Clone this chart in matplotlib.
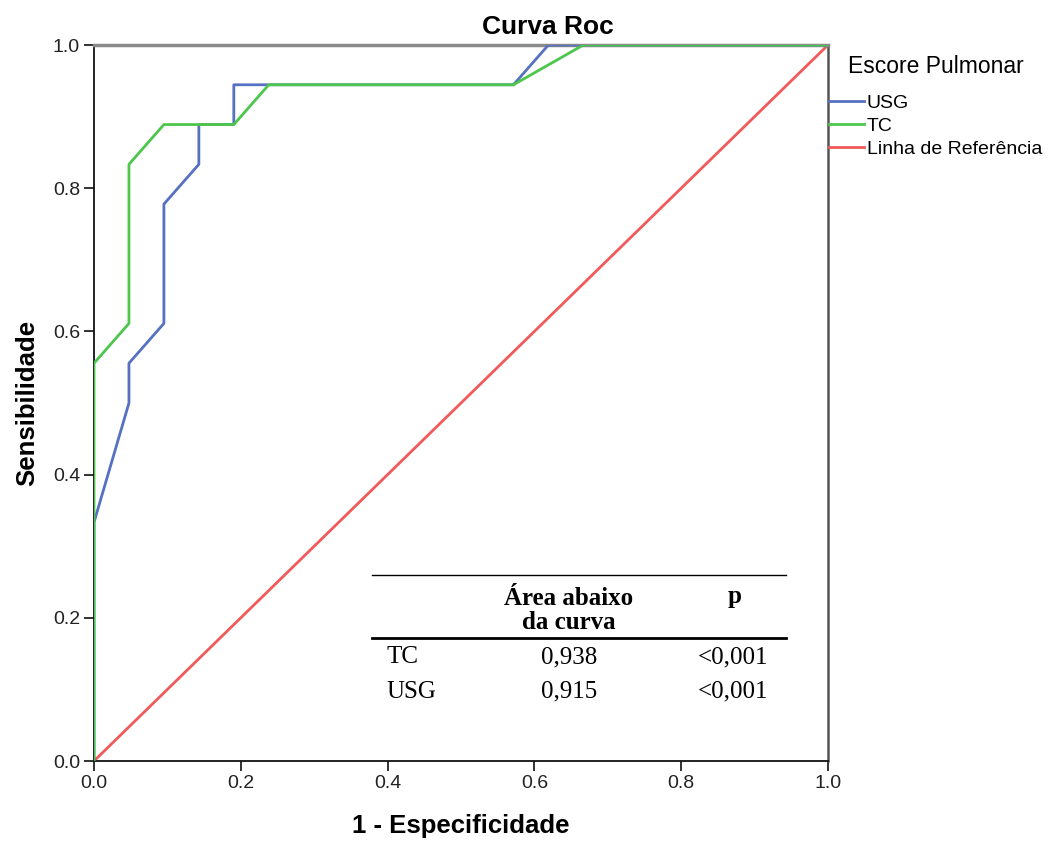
import matplotlib
matplotlib.use("Agg")
import matplotlib.pyplot as plt

# ROC points (1 - especificidade, sensibilidade)
usg_fpr = [0, 0, 1/21, 1/21, 2/21, 2/21, 3/21, 3/21, 4/21, 4/21, 12/21, 13/21, 1]
usg_tpr = [0, 6/18, 9/18, 10/18, 11/18, 14/18, 15/18, 16/18, 16/18, 17/18, 17/18, 1, 1]

tc_fpr = [0, 0, 1/21, 1/21, 2/21, 4/21, 5/21, 12/21, 14/21, 1]
tc_tpr = [0, 10/18, 11/18, 15/18, 16/18, 16/18, 17/18, 17/18, 1, 1]

ref_line = [0, 1]

# table values
table_rows = ["TC", "USG"]
table_auc = ["0,938", "0,915"]
table_p = ["<0,001", "<0,001"]

BLUE = "#5670c2"
GREEN = "#4cc64c"
RED = "#f05a5a"

plt.rcParams['font.family'] = ['Liberation Sans', 'DejaVu Sans']

fig = plt.figure(figsize=(10.5, 8.41), dpi=100)
ax = fig.add_axes([94/1050, 1 - 761/841, 734/1050, 716/841])

ax.plot(usg_fpr, usg_tpr, color=BLUE, lw=2, label="USG", zorder=3)
ax.plot(tc_fpr, tc_tpr, color=GREEN, lw=2, label="TC", zorder=3)
ax.plot(ref_line, ref_line, color=RED, lw=2, label="Linha de Referência", zorder=2)

ax.set_xlim(0, 1)
ax.set_ylim(0, 1)
ax.set_xticks([0, 0.2, 0.4, 0.6, 0.8, 1.0])
ax.set_yticks([0, 0.2, 0.4, 0.6, 0.8, 1.0])
ax.xaxis.set_major_formatter(matplotlib.ticker.FormatStrFormatter('%.1f'))
ax.yaxis.set_major_formatter(matplotlib.ticker.FormatStrFormatter('%.1f'))
ax.tick_params(direction='out', length=7, width=1.3, labelsize=14,
               color='#222222', labelcolor='#222222', pad=3)

for side in ['left', 'bottom']:
    ax.spines[side].set_color('#111111')
    ax.spines[side].set_linewidth(1.3)
ax.spines['top'].set_color('#8a8a8a')
ax.spines['top'].set_linewidth(2.5)
ax.spines['right'].set_color('#555555')
ax.spines['right'].set_linewidth(1.8)

fig.text(548/1050, 1 - 27/841, "Curva Roc", ha='center', va='center',
         fontsize=19, fontweight='bold')
ax.set_xlabel("1 - Especificidade", fontsize=18.5, fontweight='bold', labelpad=16)
ax.set_ylabel("Sensibilidade", fontsize=18.5, fontweight='bold', labelpad=10)

# legend outside on the right
leg = fig.legend(loc='upper left', bbox_to_anchor=(829/1050, 1 - 55/841),
                 title="Escore Pulmonar", title_fontsize=16.5, fontsize=14,
                 frameon=False, borderpad=0, borderaxespad=0,
                 handlelength=1.8, handletextpad=0.15, labelspacing=0.27)
leg._legend_box.sep = 12

# table inside the plot
serif = ['Liberation Serif', 'DejaVu Serif']
ax.plot([0.379, 0.943], [0.26, 0.26], color='black', lw=1, clip_on=False, zorder=4)
ax.plot([0.379, 0.943], [0.172, 0.172], color='black', lw=2, clip_on=False, zorder=4)
ax.text(0.647, 0.210, "Área abaixo\nda curva", ha='center', va='center',
        fontsize=18, fontweight='bold', family=serif, linespacing=1.05)
ax.text(0.873, 0.23, "p", ha='center', va='center', fontsize=18,
        fontweight='bold', family=serif)
for i, name in enumerate(table_rows):
    yy = 0.145 - i * 0.048
    ax.text(0.399, yy, name, ha='left', va='center', fontsize=18, family=serif)
    ax.text(0.647, yy, table_auc[i], ha='center', va='center', fontsize=18, family=serif)
    ax.text(0.871, yy, table_p[i], ha='center', va='center', fontsize=18, family=serif)

fig.savefig("out.png", dpi=100)
